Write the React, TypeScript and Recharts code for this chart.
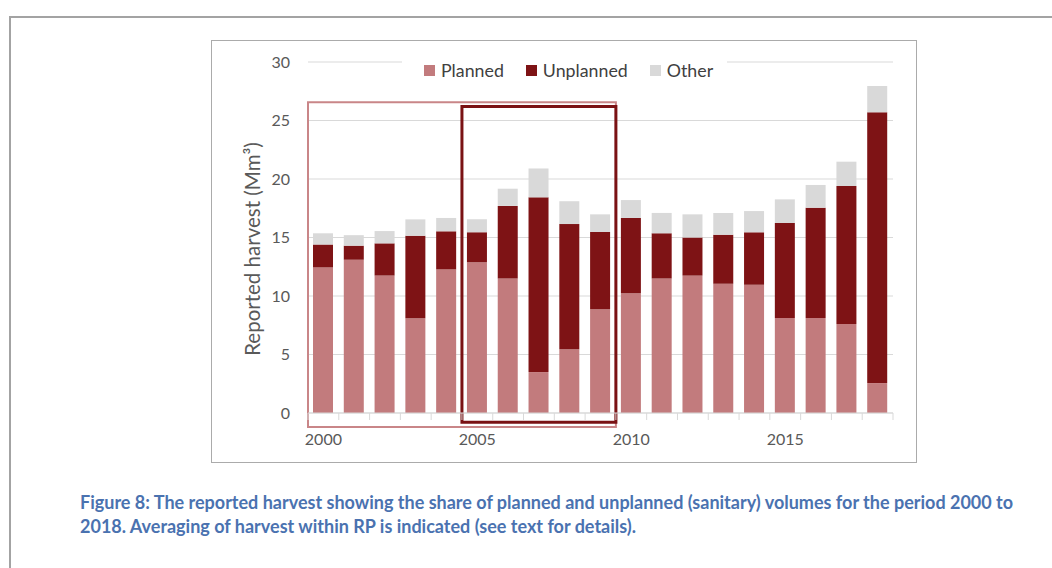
import React from "react";
import {
  BarChart,
  Bar,
  XAxis,
  YAxis,
  CartesianGrid,
  ReferenceArea,
} from "recharts";

const years = ["2000","2001","2002","2003","2004","2005","2006","2007","2008","2009","2010","2011","2012","2013","2014","2015","2016","2017","2018"];
const planned = [12.45, 13.1, 11.75, 8.1, 12.28, 12.88, 11.5, 3.5, 5.44, 8.86, 10.23, 11.5, 11.74, 11.05, 10.97, 8.12, 8.12, 7.6, 2.56];
const unplanned = [1.95, 1.2, 2.75, 7.05, 3.25, 2.56, 6.2, 14.93, 10.71, 6.61, 6.44, 3.86, 3.26, 4.19, 4.47, 8.12, 9.43, 11.8, 23.14];
const other = [0.96, 0.9, 1.05, 1.4, 1.14, 1.11, 1.47, 2.47, 1.95, 1.51, 1.53, 1.74, 1.98, 1.86, 1.82, 2.02, 1.94, 2.08, 2.25];
const yTicks = [0, 5, 10, 15, 20, 25, 30];
const labelledYears = ["2000", "2005", "2010", "2015"];

const seriesNames = ["Planned", "Unplanned", "Other"];
const seriesColors = ["#c27b7d", "#7e1315", "#d9d9d9"];

const data = years.map((y, i) => ({
  year: y,
  Planned: planned[i],
  Unplanned: unplanned[i],
  Other: other[i],
}));

const FONT = "Lato, 'Open Sans', sans-serif";

const XTick = (props: any) => {
  const { x, y, payload, index } = props;
  const off = payload && typeof payload.offset === "number" ? payload.offset : 15.4;
  const show = labelledYears.includes(String(payload.value));
  const last = index === years.length - 1;
  return (
    <g>
      <line x1={x - off} x2={x - off} y1={y} y2={y + 7} stroke="#d9d9d9" strokeWidth={1} />
      {last && <line x1={x + off} x2={x + off} y1={y} y2={y + 7} stroke="#d9d9d9" strokeWidth={1} />}
      {show && (
        <text x={x} y={y + 21} dy="0.71em" textAnchor="middle" fill="#595959" fontSize={16} fontFamily={FONT}>
          {payload.value}
        </text>
      )}
    </g>
  );
};

export default function App() {
  return (
    <div style={{ position: "absolute", left: 0, top: 0, width: 1052, height: 568, background: "#fff", overflow: "hidden" }}>
      <div
        style={{
          position: "absolute",
          left: 9,
          top: 16,
          width: 1200,
          height: 700,
          borderTop: "2px solid #a3a3a3",
          borderLeft: "2px solid #a3a3a3",
        }}
      />
      <div
        style={{
          position: "absolute",
          left: 211,
          top: 40,
          width: 704,
          height: 421,
          border: "1px solid #ababab",
        }}
      />
      <div
        style={{
          position: "absolute",
          left: 252,
          top: 249,
          transform: "translate(-50%, -50%) rotate(-90deg)",
          whiteSpace: "nowrap",
          fontFamily: FONT,
          fontSize: 20.5,
          lineHeight: "24px",
          color: "#595959",
        }}
      >
        Reported harvest (Mm³)
      </div>
      <div style={{ position: "absolute", left: 211, top: 40 }}>
        <BarChart
          width={706}
          height={423}
          data={data}
          margin={{ top: 22, right: 24, bottom: 20, left: 37 }}
        >
          <CartesianGrid vertical={false} stroke="#d9d9d9" />
          <XAxis
            dataKey="year"
            interval={0}
            tickLine={false}
            tickSize={0}
            tickMargin={0}
            height={30}
            axisLine={{ stroke: "#d9d9d9" }}
            tick={<XTick />}
          />
          <YAxis
            domain={[0, 30]}
            ticks={yTicks}
            width={60}
            axisLine={false}
            tickLine={false}
            tickMargin={12}
            tick={{ fill: "#595959", fontSize: 16, fontFamily: FONT }}
          />
          {seriesNames.map((n, i) => (
            <Bar key={n} dataKey={n} stackId="a" fill={seriesColors[i]} barSize={20} isAnimationActive={false} />
          ))}
          <ReferenceArea
            x1="2000"
            x2="2009"
            y1={-1.2}
            y2={26.55}
            fill="none"
            fillOpacity={0}
            stroke="#c98688"
            strokeWidth={2}
            ifOverflow="visible"
          />
          <ReferenceArea
            x1="2005"
            x2="2009"
            y1={-0.8}
            y2={26.2}
            fill="none"
            fillOpacity={0}
            stroke="#7a1214"
            strokeWidth={3}
            ifOverflow="visible"
          />
        </BarChart>
      </div>
      <div
        style={{
          position: "absolute",
          left: 402,
          top: 59,
          width: 325,
          height: 22,
          background: "#ffffff",
          display: "flex",
          alignItems: "center",
          paddingLeft: 22,
          boxSizing: "border-box",
          fontFamily: FONT,
          fontSize: 17.8,
          color: "#404040",
        }}
      >
        {seriesNames.map((n, i) => (
          <div key={n} style={{ display: "flex", alignItems: "center", marginRight: 22 }}>
            <div style={{ width: 11, height: 11, background: seriesColors[i], marginRight: 6 }} />
            <span>{n}</span>
          </div>
        ))}
      </div>
      <div
        style={{
          position: "absolute",
          left: 80,
          top: 490,
          width: 980,
          fontFamily: FONT,
          fontWeight: 700,
          fontSize: 18,
          lineHeight: "24px",
          whiteSpace: "nowrap",
          color: "#4a72b0",
        }}
      >
        Figure 8: The reported harvest showing the share of planned and unplanned (sanitary) volumes for the period 2000 to
        <br />
        2018. Averaging of harvest within RP is indicated (see text for details).
      </div>
    </div>
  );
}
